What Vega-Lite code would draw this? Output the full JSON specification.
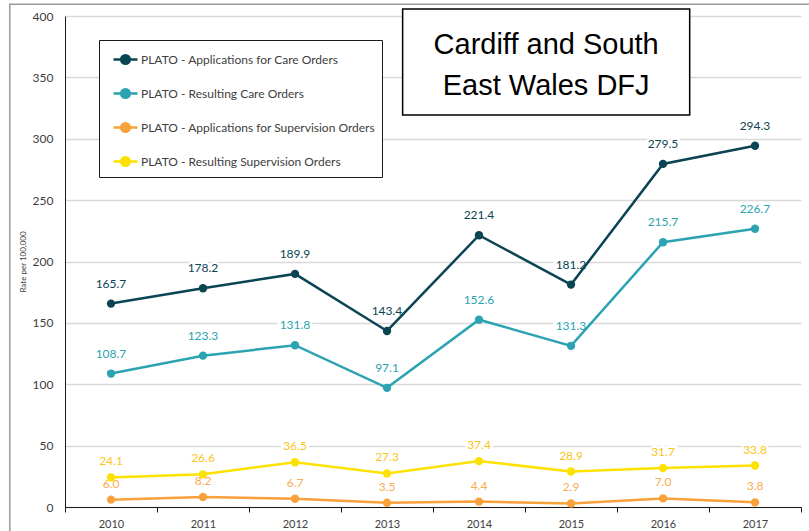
{
  "$schema": "https://vega.github.io/schema/vega-lite/v6.json",
  "width": 736,
  "height": 491,
  "autosize": "none",
  "padding": {"left": 65, "top": 16, "right": 8, "bottom": 24},
  "config": {
    "view": {"stroke": null},
    "font": "Lato"
  },
  "datasets": {
    "series": [
      {"year": 2010, "series": "PLATO - Applications for Care Orders", "group": "care", "rate": 165.7, "label": "165.7"},
      {"year": 2011, "series": "PLATO - Applications for Care Orders", "group": "care", "rate": 178.2, "label": "178.2"},
      {"year": 2012, "series": "PLATO - Applications for Care Orders", "group": "care", "rate": 189.9, "label": "189.9"},
      {"year": 2013, "series": "PLATO - Applications for Care Orders", "group": "care", "rate": 143.4, "label": "143.4"},
      {"year": 2014, "series": "PLATO - Applications for Care Orders", "group": "care", "rate": 221.4, "label": "221.4"},
      {"year": 2015, "series": "PLATO - Applications for Care Orders", "group": "care", "rate": 181.2, "label": "181.2"},
      {"year": 2016, "series": "PLATO - Applications for Care Orders", "group": "care", "rate": 279.5, "label": "279.5"},
      {"year": 2017, "series": "PLATO - Applications for Care Orders", "group": "care", "rate": 294.3, "label": "294.3"},
      {"year": 2010, "series": "PLATO - Resulting Care Orders", "group": "care", "rate": 108.7, "label": "108.7"},
      {"year": 2011, "series": "PLATO - Resulting Care Orders", "group": "care", "rate": 123.3, "label": "123.3"},
      {"year": 2012, "series": "PLATO - Resulting Care Orders", "group": "care", "rate": 131.8, "label": "131.8"},
      {"year": 2013, "series": "PLATO - Resulting Care Orders", "group": "care", "rate": 97.1, "label": "97.1"},
      {"year": 2014, "series": "PLATO - Resulting Care Orders", "group": "care", "rate": 152.6, "label": "152.6"},
      {"year": 2015, "series": "PLATO - Resulting Care Orders", "group": "care", "rate": 131.3, "label": "131.3"},
      {"year": 2016, "series": "PLATO - Resulting Care Orders", "group": "care", "rate": 215.7, "label": "215.7"},
      {"year": 2017, "series": "PLATO - Resulting Care Orders", "group": "care", "rate": 226.7, "label": "226.7"},
      {"year": 2010, "series": "PLATO - Applications for Supervision Orders", "group": "supervision", "rate": 6.0, "label": "6.0"},
      {"year": 2011, "series": "PLATO - Applications for Supervision Orders", "group": "supervision", "rate": 8.2, "label": "8.2"},
      {"year": 2012, "series": "PLATO - Applications for Supervision Orders", "group": "supervision", "rate": 6.7, "label": "6.7"},
      {"year": 2013, "series": "PLATO - Applications for Supervision Orders", "group": "supervision", "rate": 3.5, "label": "3.5"},
      {"year": 2014, "series": "PLATO - Applications for Supervision Orders", "group": "supervision", "rate": 4.4, "label": "4.4"},
      {"year": 2015, "series": "PLATO - Applications for Supervision Orders", "group": "supervision", "rate": 2.9, "label": "2.9"},
      {"year": 2016, "series": "PLATO - Applications for Supervision Orders", "group": "supervision", "rate": 7.0, "label": "7.0"},
      {"year": 2017, "series": "PLATO - Applications for Supervision Orders", "group": "supervision", "rate": 3.8, "label": "3.8"},
      {"year": 2010, "series": "PLATO - Resulting Supervision Orders", "group": "supervision", "rate": 24.1, "label": "24.1"},
      {"year": 2011, "series": "PLATO - Resulting Supervision Orders", "group": "supervision", "rate": 26.6, "label": "26.6"},
      {"year": 2012, "series": "PLATO - Resulting Supervision Orders", "group": "supervision", "rate": 36.5, "label": "36.5"},
      {"year": 2013, "series": "PLATO - Resulting Supervision Orders", "group": "supervision", "rate": 27.3, "label": "27.3"},
      {"year": 2014, "series": "PLATO - Resulting Supervision Orders", "group": "supervision", "rate": 37.4, "label": "37.4"},
      {"year": 2015, "series": "PLATO - Resulting Supervision Orders", "group": "supervision", "rate": 28.9, "label": "28.9"},
      {"year": 2016, "series": "PLATO - Resulting Supervision Orders", "group": "supervision", "rate": 31.7, "label": "31.7"},
      {"year": 2017, "series": "PLATO - Resulting Supervision Orders", "group": "supervision", "rate": 33.8, "label": "33.8"}
    ],
    "frame": [{"x1": 2008.9, "x2": 2019, "y1": 409.5, "y2": -60}],
    "titlebox": [{"x1": 2013.17, "x2": 2016.29, "y1": 405.7, "y2": 319.3}],
    "titletext": [
      {"x": 2014.73, "y": 376.4, "text": "Cardiff and South"},
      {"x": 2014.73, "y": 342.8, "text": "East Wales DFJ"}
    ]
  },
  "layer": [
    {
      "data": {"name": "frame"},
      "mark": {"type": "rect", "fill": null, "stroke": "#9a9a9a", "strokeWidth": 1.5, "clip": false},
      "encoding": {
        "x": {"field": "x1", "type": "quantitative", "scale": {"domain": [2009.5, 2017.5], "nice": false, "zero": false}},
        "x2": {"field": "x2"},
        "y": {"field": "y1", "type": "quantitative"},
        "y2": {"field": "y2"}
      }
    },
    {
      "data": {"name": "series"},
      "transform": [{"filter": "datum.group == 'care'"}],
      "mark": {"type": "text", "stroke": "white", "strokeWidth": 5, "fill": "white", "fontSize": 12, "dy": -20},
      "encoding": {
        "x": {"field": "year", "type": "quantitative"},
        "y": {"field": "rate", "type": "quantitative"},
        "text": {"field": "label"}
      }
    },
    {
      "data": {"name": "series"},
      "transform": [{"filter": "datum.group == 'supervision'"}],
      "mark": {"type": "text", "stroke": "white", "strokeWidth": 5, "fill": "white", "fontSize": 12, "dy": -16},
      "encoding": {
        "x": {"field": "year", "type": "quantitative"},
        "y": {"field": "rate", "type": "quantitative"},
        "text": {"field": "label"}
      }
    },
    {
      "data": {"name": "series"},
      "mark": {"type": "line", "strokeWidth": 2.5, "point": {"filled": true, "size": 70}},
      "encoding": {
        "x": {
          "field": "year",
          "type": "quantitative",
          "scale": {"domain": [2009.5, 2017.5], "nice": false, "zero": false},
          "axis": {
            "title": null,
            "values": [2009.5, 2010, 2010.5, 2011, 2011.5, 2012, 2012.5, 2013, 2013.5, 2014, 2014.5, 2015, 2015.5, 2016, 2016.5, 2017, 2017.5],
            "labelExpr": "datum.value % 1 == 0 ? datum.value : ''",
            "tickOpacity": {"expr": "datum.value % 1 == 0 ? 0 : 1"},
            "grid": false,
            "domainColor": "#1a1a1a",
            "tickColor": "#1a1a1a",
            "tickSize": 5,
            "labelColor": "#404040",
            "labelFontSize": 11,
            "labelPadding": 6,
            "labelFont": "Lato"
          }
        },
        "y": {
          "field": "rate",
          "type": "quantitative",
          "scale": {"domain": [0, 400], "nice": false},
          "axis": {
            "title": "Rate per 100,000",
            "titleFontSize": 8,
            "titleFontWeight": "normal",
            "titleColor": "#404040",
            "titlePadding": 5,
            "titleFont": "Lato",
            "values": [0, 50, 100, 150, 200, 250, 300, 350, 400],
            "ticks": false,
            "gridColor": "#d9d9d9",
            "gridWidth": 1.5,
            "domainColor": "#1a1a1a",
            "labelColor": "#404040",
            "labelFontSize": 12,
            "labelPadding": 12,
            "labelFont": "Lato"
          }
        },
        "color": {
          "field": "series",
          "type": "nominal",
          "sort": ["PLATO - Applications for Care Orders", "PLATO - Resulting Care Orders", "PLATO - Applications for Supervision Orders", "PLATO - Resulting Supervision Orders"],
          "scale": {
            "domain": ["PLATO - Applications for Care Orders", "PLATO - Resulting Care Orders", "PLATO - Applications for Supervision Orders", "PLATO - Resulting Supervision Orders"],
            "range": ["#0b4453", "#2ba3b1", "#f9a13a", "#fde100"]
          },
          "legend": {
            "title": null,
            "orient": "none",
            "legendX": 34,
            "legendY": 24,
            "direction": "vertical",
            "strokeColor": "#1a1a1a",
            "fillColor": "white",
            "padding": 6,
            "rowPadding": 11,
            "symbolType": "M -1 0 L 1 0 M 0.36 0 A 0.36 0.36 0 1 1 -0.36 0 A 0.36 0.36 0 1 1 0.36 0",
            "symbolSize": 576,
            "symbolStrokeWidth": 2.5,
            "symbolOffset": 7,
            "labelOffset": 2,
            "labelFontSize": 12,
            "labelColor": "#404040",
            "labelFont": "Lato",
            "labelLimit": 400,
            "encode": {"symbols": {"update": {"fill": {"scale": "color", "field": "value"}, "stroke": {"scale": "color", "field": "value"}}}}
          }
        }
      }
    },
    {
      "data": {"name": "series"},
      "transform": [{"filter": "datum.group == 'care'"}],
      "mark": {"type": "text", "fontSize": 12, "dy": -20},
      "encoding": {
        "x": {"field": "year", "type": "quantitative"},
        "y": {"field": "rate", "type": "quantitative"},
        "text": {"field": "label"},
        "fill": {
          "field": "series",
          "type": "nominal",
          "scale": {
            "domain": ["PLATO - Applications for Care Orders", "PLATO - Resulting Care Orders", "PLATO - Applications for Supervision Orders", "PLATO - Resulting Supervision Orders"],
            "range": ["#0b4453", "#2ba3b1", "#fbab52", "#f8c51c"]
          },
          "legend": null
        }
      }
    },
    {
      "data": {"name": "series"},
      "transform": [{"filter": "datum.group == 'supervision'"}],
      "mark": {"type": "text", "fontSize": 12, "dy": -16},
      "encoding": {
        "x": {"field": "year", "type": "quantitative"},
        "y": {"field": "rate", "type": "quantitative"},
        "text": {"field": "label"},
        "fill": {
          "field": "series",
          "type": "nominal",
          "legend": null
        }
      }
    },
    {
      "data": {"name": "titlebox"},
      "mark": {"type": "rect", "fill": "white", "stroke": "black", "strokeWidth": 1.5, "clip": false},
      "encoding": {
        "x": {"field": "x1", "type": "quantitative"},
        "x2": {"field": "x2"},
        "y": {"field": "y1", "type": "quantitative"},
        "y2": {"field": "y2"}
      }
    },
    {
      "data": {"name": "titletext"},
      "mark": {"type": "text", "font": "Liberation Sans", "fontSize": 29, "color": "black", "align": "center", "baseline": "middle"},
      "encoding": {
        "x": {"field": "x", "type": "quantitative"},
        "y": {"field": "y", "type": "quantitative"},
        "text": {"field": "text"}
      }
    }
  ]
}
